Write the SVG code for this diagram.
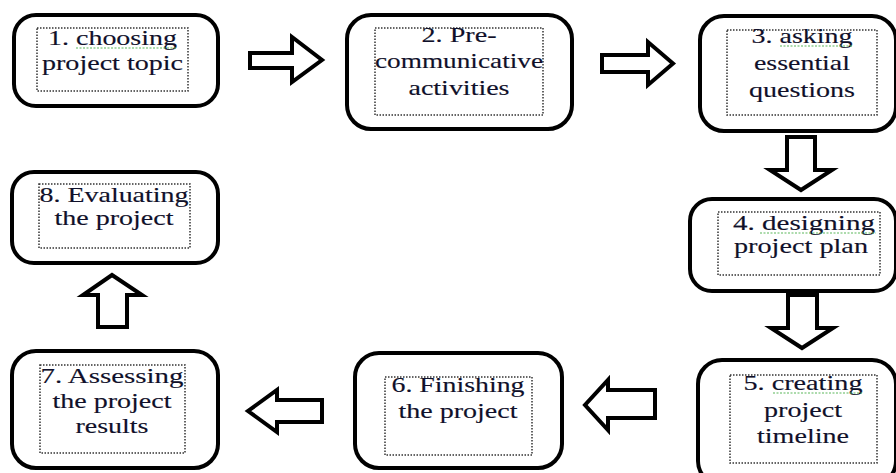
<svg xmlns="http://www.w3.org/2000/svg" width="896" height="473" viewBox="0 0 896 473">
<style>
.box{fill:#fff;stroke:#000;stroke-width:4}
.inner{fill:none;stroke:#333;stroke-width:1.5;stroke-dasharray:1.5 1.5}
.arr{fill:#fff;stroke:#000;stroke-width:4;stroke-linejoin:miter}
text{font-family:"Liberation Serif","Times New Roman",serif;font-size:22px;fill:#10102a;stroke:#10102a;stroke-width:0.15;text-anchor:middle}
.sq{fill:none;stroke:#5bb85b;stroke-width:1.2;stroke-dasharray:2 1.5}
</style>
<rect width="896" height="473" fill="#fff"/>
<g id="connectors">
<polygon class="arr" points="250,53 292,53 292,37 322,60 292,82 292,68 250,68"/>
<polygon class="arr" points="602,55 648,55 648,42 673,63.5 648,85 648,72 602,72"/>
<polygon class="arr" points="787,137 815,137 815,170 832,170 801,190 770,170 787,170"/>
<polygon class="arr" points="788,295 817,295 817,328 833,328 802,348 771,328 788,328"/>
<polygon class="arr" points="655,390 608,390 608,380 585,405 608,430 608,418 655,418"/>
<polygon class="arr" points="322,400 277,400 277,390 248,411 277,432 277,422 322,422"/>
<polygon class="arr" points="98,327 98,295 83,295 112,275 142,295 127,295 127,327"/>
</g>
<g id="node1">
<rect class="box" x="14" y="15" width="204" height="91" rx="22"/>
<rect class="inner" x="37" y="28" width="151" height="63"/>
<text x="112.5" y="45" textLength="129" lengthAdjust="spacingAndGlyphs">1. choosing</text>
<path class="sq" d="M76,48 H176"/>
<text x="112.5" y="70" textLength="141" lengthAdjust="spacingAndGlyphs">project topic</text>
</g>
<g id="node2">
<rect class="box" x="347" y="15" width="225" height="114" rx="24"/>
<rect class="inner" x="375" y="28" width="168" height="87"/>
<text x="459" y="42" textLength="75" lengthAdjust="spacingAndGlyphs">2. Pre-</text>
<text x="459" y="68" textLength="168" lengthAdjust="spacingAndGlyphs">communicative</text>
<text x="459" y="95" textLength="101" lengthAdjust="spacingAndGlyphs">activities</text>
</g>
<g id="node3">
<rect class="box" x="700" y="16" width="196" height="115" rx="24"/>
<rect class="inner" x="727" y="30" width="150" height="85"/>
<text x="802" y="43" textLength="101" lengthAdjust="spacingAndGlyphs">3. asking</text>
<path class="sq" d="M780,46 H852"/>
<text x="802" y="70" textLength="96" lengthAdjust="spacingAndGlyphs">essential</text>
<text x="802" y="97" textLength="106" lengthAdjust="spacingAndGlyphs">questions</text>
</g>
<g id="node4">
<rect class="box" x="690" y="199" width="206" height="92" rx="22"/>
<rect class="inner" x="718" y="212" width="162" height="63"/>
<text x="804" y="230" textLength="142" lengthAdjust="spacingAndGlyphs">4. designing</text>
<path class="sq" d="M760,233 H876"/>
<text x="801" y="253" textLength="134" lengthAdjust="spacingAndGlyphs">project plan</text>
</g>
<g id="node5">
<rect class="box" x="698" y="360" width="198" height="125" rx="24"/>
<rect class="inner" x="730" y="375" width="147" height="88"/>
<text x="803" y="390" textLength="119" lengthAdjust="spacingAndGlyphs">5. creating</text>
<path class="sq" d="M773,393 H862"/>
<text x="803" y="417" textLength="78" lengthAdjust="spacingAndGlyphs">project</text>
<text x="803" y="443" textLength="92" lengthAdjust="spacingAndGlyphs">timeline</text>
</g>
<g id="node6">
<rect class="box" x="355" y="353" width="207" height="115" rx="24"/>
<rect class="inner" x="385" y="377" width="147" height="78"/>
<text x="458" y="392" textLength="133" lengthAdjust="spacingAndGlyphs">6. Finishing</text>
<text x="458" y="418" textLength="119" lengthAdjust="spacingAndGlyphs">the project</text>
</g>
<g id="node7">
<rect class="box" x="12" y="351" width="206" height="117" rx="24"/>
<rect class="inner" x="40" y="365" width="145" height="88"/>
<text x="112" y="383" textLength="143" lengthAdjust="spacingAndGlyphs">7. Assessing</text>
<text x="112" y="408" textLength="119" lengthAdjust="spacingAndGlyphs">the project</text>
<text x="112" y="433" textLength="73" lengthAdjust="spacingAndGlyphs">results</text>
</g>
<g id="node8">
<rect class="box" x="12" y="172" width="206" height="91" rx="22"/>
<rect class="inner" x="39" y="184" width="151" height="64"/>
<text x="114" y="202" textLength="149" lengthAdjust="spacingAndGlyphs">8. Evaluating</text>
<text x="114" y="225" textLength="119" lengthAdjust="spacingAndGlyphs">the project</text>
</g>
</svg>
